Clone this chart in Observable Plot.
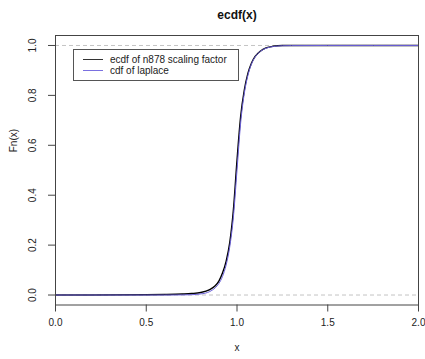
<!DOCTYPE html>
<html>
<head>
<meta charset="utf-8">
<script src="https://cdn.jsdelivr.net/npm/d3@7"></script>
<script src="https://cdn.jsdelivr.net/npm/@observablehq/plot@0.6"></script>
<style>
  html, body { margin: 0; padding: 0; background: white; }
  #wrap { position: relative; width: 425px; height: 359px; font-family: "Liberation Sans", Arial, sans-serif; }
  #legend { position: absolute; left: 73px; top: 49px; width: 164px; height: 30px; border: 1px solid #555; background: white; font-size: 10px; color: #222; }
  .row { position: absolute; left: 0; height: 11px; line-height: 11px; }
  .sw { position: absolute; left: 9px; width: 20px; top: 5px; height: 0; border-top: 1px solid; }
  .lbl { position: absolute; left: 36px; top: 0; white-space: nowrap; }
</style>
</head>
<body>
<div id="wrap"></div>
<script>
// Data
const ecdfX = [0, 0.2, 0.5, 0.6, 0.7, 0.75, 0.8, 0.85, 0.88, 0.9, 0.92, 0.94, 0.96, 0.98, 1.0, 1.02, 1.04, 1.06, 1.08, 1.1, 1.13, 1.16, 1.2, 1.25, 1.3, 2.0];
const ecdfF = [0, 0, 0.001, 0.002, 0.004, 0.006, 0.010, 0.022, 0.037, 0.056, 0.088, 0.135, 0.21, 0.34, 0.54, 0.715, 0.82, 0.888, 0.93, 0.956, 0.978, 0.99, 0.997, 1.0, 1.0, 1.0];
const lapX = [0, 0.5, 0.6, 0.7, 0.75, 0.8, 0.85, 0.88, 0.9, 0.92, 0.94, 0.96, 0.98, 1.0, 1.02, 1.04, 1.06, 1.08, 1.1, 1.13, 1.16, 1.2, 1.25, 1.3, 1.5, 2.0];
const lapF = [0, 0, 0, 0.0004, 0.0013, 0.0043, 0.014, 0.029, 0.046, 0.074, 0.120, 0.193, 0.311, 0.5, 0.689, 0.807, 0.880, 0.926, 0.954, 0.977, 0.989, 0.9957, 0.9989, 0.9996, 1.0, 1.0];
const xTicks = [0, 0.5, 1.0, 1.5, 2.0];
const yTicks = [0, 0.2, 0.4, 0.6, 0.8, 1.0];
const refLines = [0, 1];
const seriesNames = ["ecdf of n878 scaling factor", "cdf of laplace"];
const seriesColors = ["#000000", "#6a5fd8"];
const titleText = "ecdf(x)";
const xLabel = "x";
const yLabel = "Fn(x)";

const ecdfData = ecdfX.map((x, i) => ({x, F: ecdfF[i]}));
const lapData = lapX.map((x, i) => ({x, F: lapF[i]}));
const fmt = d3.format(".1f");

const chart = Plot.plot({
  width: 425,
  height: 359,
  marginLeft: 55,
  marginRight: 7,
  marginTop: 35,
  marginBottom: 54.5,
  x: {domain: [0, 2]},
  y: {domain: [-0.04, 1.04]},
  style: {fontFamily: "'Liberation Sans', Arial, sans-serif", fontSize: "10px", background: "white", color: "#222"},
  marks: [
    Plot.ruleY(refLines, {stroke: "#c4c4c4", strokeDasharray: "4,3"}),
    Plot.line(ecdfData, {x: "x", y: "F", stroke: seriesColors[0], strokeWidth: 1.4, curve: "monotone-x", clip: true}),
    Plot.line(lapData, {x: "x", y: "F", stroke: seriesColors[1], strokeWidth: 1, curve: "monotone-x", clip: true}),
    Plot.frame({stroke: "#444"}),
    Plot.axisX({ticks: xTicks, tickFormat: fmt, tickSize: 7, tickPadding: 7, label: null, stroke: "#444"}),
    Plot.axisY({ticks: yTicks, tickFormat: fmt, tickSize: 7, tickPadding: 13, tickRotate: -90, label: null, stroke: "#444"}),
    Plot.text([titleText], {frameAnchor: "top", dy: -25, fontWeight: "bold", fontSize: 12, fill: "#111"}),
    Plot.text([xLabel], {frameAnchor: "bottom", dy: 45.5, fontSize: 10}),
    Plot.text([yLabel], {frameAnchor: "left", dx: -42, dy: -18, rotate: -90, fontSize: 10})
  ]
});

const wrap = document.getElementById("wrap");
wrap.appendChild(chart);
const legend = document.createElement("div");
legend.id = "legend";
seriesNames.forEach((name, i) => {
  const row = document.createElement("div");
  row.className = "row";
  row.style.top = (4 + i * 11) + "px";
  row.style.width = "100%";
  const sw = document.createElement("div");
  sw.className = "sw";
  sw.style.borderTopColor = i === 0 ? "#333" : "#7a70e0";
  const lb = document.createElement("div");
  lb.className = "lbl";
  lb.textContent = name;
  row.appendChild(sw);
  row.appendChild(lb);
  legend.appendChild(row);
});
wrap.appendChild(legend);
</script>
</body>
</html>
